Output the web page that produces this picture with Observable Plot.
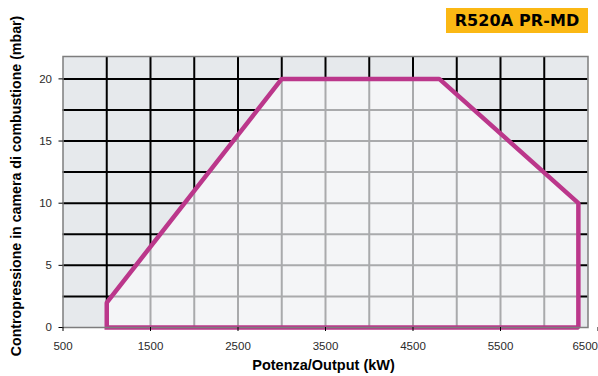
<!DOCTYPE html>
<html>
<head>
<meta charset="utf-8">
<script src="https://cdn.jsdelivr.net/npm/d3@7"></script>
<script src="https://cdn.jsdelivr.net/npm/@observablehq/plot@0.6"></script>
<style>
  html, body { margin: 0; padding: 0; background: #fff; }
  #wrap { position: relative; width: 598px; height: 376px; }
  #badge {
    position: absolute; left: 446px; top: 8px; width: 142px; height: 25px;
    background: #fbb814; color: #000;
    font-family: "DejaVu Sans", sans-serif; font-weight: bold; font-size: 16px;
    display: flex; align-items: center; justify-content: center; letter-spacing: 0.1px;
  }
  svg { font-family: "Liberation Sans", Arial, sans-serif; }
</style>
</head>
<body>
<div id="wrap">
  <div id="chart"></div>
  <div id="badge">R520A PR-MD</div>
</div>
<script>
// ---- data ----
const title = "R520A PR-MD";
const xLabel = "Potenza/Output (kW)";
const yLabel = "Contropressione in camera di combustione (mbar)";
const xTicks = [500, 1500, 2500, 3500, 4500, 5500, 6500];
const yTicks = [0, 5, 10, 15, 20];
const xGrid = [1000, 1500, 2000, 2500, 3000, 3500, 4000, 4500, 5000, 5500, 6000];
const yGrid = [2.5, 5, 7.5, 10, 12.5, 15, 17.5, 20];
const envelopeOutput = [1000, 1000, 3000, 4800, 6390, 6390, 1000];
const envelopePressure = [0, 2, 20, 20, 10, 0, 0];

const envelope = envelopeOutput.map((x, i) => ({x, y: envelopePressure[i]}));
const envelopeTop = envelope.slice(1, 5); // upper boundary for the filled area
const xTicksInner = xTicks.slice(0, -1);
const xTickLast = xTicks.slice(-1);

const chart = Plot.plot({
  width: 598,
  height: 376,
  marginLeft: 62.5,
  marginRight: 10.5,
  marginTop: 56,
  marginBottom: 49,
  style: {fontFamily: "Liberation Sans, Arial, sans-serif", fontSize: "11.5px", color: "#2a2a2a", background: "transparent"},
  x: {domain: [500, 6500], label: null},
  y: {domain: [0, 21.8], label: null},
  marks: [
    Plot.frame({fill: "#e6e9ec", stroke: "none"}),
    Plot.ruleX(xGrid, {stroke: "#000", strokeWidth: 2}),
    Plot.ruleY(yGrid, {stroke: "#000", strokeWidth: 2}),
    Plot.areaY(envelopeTop, {x: "x", y1: 0, y2: "y", fill: "#f4f5f7"}),
    Plot.ruleX(xGrid, {stroke: "#a9aaac", strokeWidth: 2}),
    Plot.ruleY(yGrid, {stroke: "#a9aaac", strokeWidth: 2}),
    Plot.line(envelope, {x: "x", y: "y", stroke: "#bb378b", strokeWidth: 4.5, strokeLinejoin: "miter", strokeLinecap: "square"}),
    Plot.frame({stroke: "#7d7d7d", strokeWidth: 1.5}),
    Plot.axisY({ticks: yTicks, tickFormat: d => String(d), tickSize: 4, tickPadding: 7, stroke: "#000", label: null}),
    Plot.axisX({ticks: xTicksInner, tickFormat: d => String(d), tickSize: 4, tickPadding: 10, stroke: "#000", label: null}),
    Plot.axisX({ticks: xTickLast, tickFormat: d => String(d), tickSize: 4, tickPadding: 10, stroke: "#000", label: null, textAnchor: "end", dx: 10}),
    Plot.text([xLabel], {frameAnchor: "bottom", lineAnchor: "middle", dy: 38, dx: -2, fontWeight: "bold", fontSize: 14.5, fill: "#000"}),
    Plot.text([yLabel], {frameAnchor: "left", textAnchor: "middle", lineAnchor: "middle", dx: -47, dy: -6, rotate: -90, fontWeight: "bold", fontSize: 14.2, fill: "#000"})
  ]
});

// clip the inner (gray) grid to the envelope polygon
const ns = "http://www.w3.org/2000/svg";
const kids = Array.from(chart.children);
const areaIdx = kids.findIndex(c => c.getAttribute("aria-label") === "area");
if (areaIdx >= 0) {
  const areaG = kids[areaIdx];
  const areaPath = areaG.tagName === "path" ? areaG : areaG.querySelector("path");
  let defs = chart.querySelector("defs");
  if (!defs) { defs = document.createElementNS(ns, "defs"); chart.insertBefore(defs, chart.firstChild); }
  const cp = document.createElementNS(ns, "clipPath");
  cp.setAttribute("id", "envClip");
  const p = document.createElementNS(ns, "path");
  p.setAttribute("d", areaPath.getAttribute("d"));
  const t = [areaG !== areaPath ? areaG.getAttribute("transform") : null, areaPath.getAttribute("transform")].filter(Boolean).join(" ");
  if (t) p.setAttribute("transform", t);
  cp.appendChild(p);
  defs.appendChild(cp);
  const innerRules = kids.slice(areaIdx + 1).filter(c => c.getAttribute("aria-label") === "rule").slice(0, 2);
  for (const g of innerRules) {
    const wrap = document.createElementNS(ns, "g");
    wrap.setAttribute("clip-path", "url(#envClip)");
    g.parentNode.insertBefore(wrap, g);
    wrap.appendChild(g);
  }
}
document.getElementById("chart").appendChild(chart);
</script>
</body>
</html>
